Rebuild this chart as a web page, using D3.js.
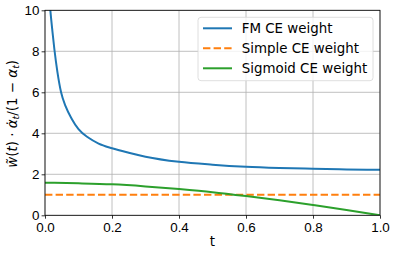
<!DOCTYPE html>
<html>
<head>
<meta charset="utf-8">
<script src="https://cdn.jsdelivr.net/npm/d3@7"></script>
<style>
  body { margin: 0; background: #fff; }
  svg { display: block; font-family: "DejaVu Sans", sans-serif; }
  .tick text { font-size: 13.4px; fill: #000; }
  .grid line { stroke: #b0b0b0; stroke-width: 0.8; }
</style>
</head>
<body>
<div class="container"></div>
<script>
const WIDTH = 397;
const HEIGHT = 255;
const LEFT = 45, RIGHT = 380, TOP = 10.3, BOTTOM = 215.3;

// values
var fmT = [0.012, 0.016, 0.022, 0.028, 0.037, 0.048, 0.062, 0.08, 0.1, 0.13, 0.16, 0.2, 0.25, 0.3, 0.4, 0.5, 0.6, 0.7, 0.8, 0.9, 1.0];
var fmWeight = [10.8, 10, 9, 8.1, 7, 6, 5.3, 4.7, 4.2, 3.78, 3.5, 3.27, 3.05, 2.86, 2.61, 2.47, 2.37, 2.31, 2.27, 2.24, 2.22];

var simpleT = [0, 1];
var simpleWeight = [1, 1];

var sigT = [0, 0.1, 0.2, 0.3, 0.4, 0.5, 0.6, 0.7, 0.8, 0.9, 1.0];
var sigWeight = [1.59, 1.56, 1.51, 1.41, 1.28, 1.13, 0.94, 0.73, 0.50, 0.26, 0.0];

var xTicks = [0, 0.2, 0.4, 0.6, 0.8, 1.0];
var yTicks = [0, 2, 4, 6, 8, 10];

var seriesNames = ['FM CE weight', 'Simple CE weight', 'Sigmoid CE weight'];
var colors = ['#1f77b4', '#ff7f0e', '#2ca02c'];

var zip = function (xs, ys) {
  return xs.map(function (x, i) { return {x: x, y: ys[i]}; });
};

var svg = d3.select('.container').append('svg')
  .attr('width', WIDTH)
  .attr('height', HEIGHT);

var xScale = d3.scaleLinear().domain([0, 1]).range([LEFT, RIGHT]);
var yScale = d3.scaleLinear().domain([0, 10]).range([BOTTOM, TOP]);

svg.append('defs').append('clipPath').attr('id', 'plot')
  .append('rect')
  .attr('x', LEFT).attr('y', TOP)
  .attr('width', RIGHT - LEFT).attr('height', BOTTOM - TOP);

// grid
var grid = svg.append('g').classed('grid', true);
grid.selectAll('.gx').data(xTicks).enter().append('line')
  .attr('x1', function (d) { return xScale(d); })
  .attr('x2', function (d) { return xScale(d); })
  .attr('y1', TOP).attr('y2', BOTTOM);
grid.selectAll('.gy').data(yTicks).enter().append('line')
  .attr('y1', function (d) { return yScale(d); })
  .attr('y2', function (d) { return yScale(d); })
  .attr('x1', LEFT).attr('x2', RIGHT);

// lines
var line = d3.line()
  .curve(d3.curveMonotoneX)
  .x(function (d) { return xScale(d.x); })
  .y(function (d) { return yScale(d.y); });

var series = [zip(fmT, fmWeight), zip(simpleT, simpleWeight), zip(sigT, sigWeight)];
var lines = svg.append('g').attr('clip-path', 'url(#plot)');
series.forEach(function (s, i) {
  lines.append('path')
    .attr('d', line(s))
    .attr('fill', 'none')
    .attr('stroke', colors[i])
    .attr('stroke-width', 2)
    .attr('stroke-dasharray', i === 1 ? '7.4,3.2' : null);
});

// axes
var xAxis = d3.axisBottom(xScale).tickValues(xTicks).tickFormat(d3.format('.1f'))
  .tickSize(3.4).tickPadding(3.5);
var yAxis = d3.axisLeft(yScale).tickValues(yTicks).tickFormat(d3.format('d'))
  .tickSize(3.4).tickPadding(2.2);

var gx = svg.append('g').attr('transform', 'translate(0,' + BOTTOM + ')').call(xAxis);
var gy = svg.append('g').attr('transform', 'translate(' + LEFT + ',0)').call(yAxis);
[gx, gy].forEach(function (g) {
  g.select('.domain').remove();
  g.selectAll('.tick line').attr('stroke', '#000').attr('stroke-width', 0.8);
});
gx.selectAll('.tick text').attr('dy', '0.72em');

// spines
svg.append('rect')
  .attr('x', LEFT).attr('y', TOP)
  .attr('width', RIGHT - LEFT).attr('height', BOTTOM - TOP)
  .attr('fill', 'none').attr('stroke', '#000').attr('stroke-width', 0.8);

// axis labels
svg.append('text')
  .attr('x', (LEFT + RIGHT) / 2).attr('y', 246)
  .attr('text-anchor', 'middle')
  .style('font-size', '13.4px')
  .text('t');

var ylab = svg.append('text')
  .attr('transform', 'translate(17,' + ((TOP + BOTTOM) / 2 + 1) + ') rotate(-90)')
  .attr('text-anchor', 'middle')
  .style('font-size', '13.4px');
var parts = [
  ['w\u0303', 'italic', 0],
  ['(', 'normal', 0],
  ['t', 'italic', 0],
  [') \u00b7 ', 'normal', 0],
  ['\u03b1\u0307', 'italic', 0],
  ['t', 'italic', 1],
  ['/(1 \u2212 ', 'normal', 0],
  ['\u03b1', 'italic', 0],
  ['t', 'italic', 1],
  [')', 'normal', 0]
];
parts.forEach(function (p) {
  var ts = ylab.append('tspan').style('font-style', p[1]).text(p[0]);
  if (p[2]) {
    ts.style('font-size', '9.4px').attr('baseline-shift', '-22%');
  }
});

// legend
var legend = svg.append('g');
legend.append('rect')
  .attr('x', 198).attr('y', 17.3)
  .attr('width', 175).attr('height', 63.4)
  .attr('rx', 3)
  .attr('fill', 'rgba(255,255,255,0.8)')
  .attr('stroke', '#d6d6d6').attr('stroke-width', 0.8);
seriesNames.forEach(function (name, i) {
  var y = 28.3 + i * 20;
  legend.append('line')
    .attr('x1', 203).attr('x2', 232)
    .attr('y1', y).attr('y2', y)
    .attr('stroke', colors[i]).attr('stroke-width', 2)
    .attr('stroke-dasharray', i === 1 ? '7.4,3.2' : null);
  legend.append('text')
    .attr('x', 241.7).attr('y', y).attr('dy', '0.36em')
    .style('font-size', '13.4px')
    .text(name);
});
</script>
</body>
</html>
